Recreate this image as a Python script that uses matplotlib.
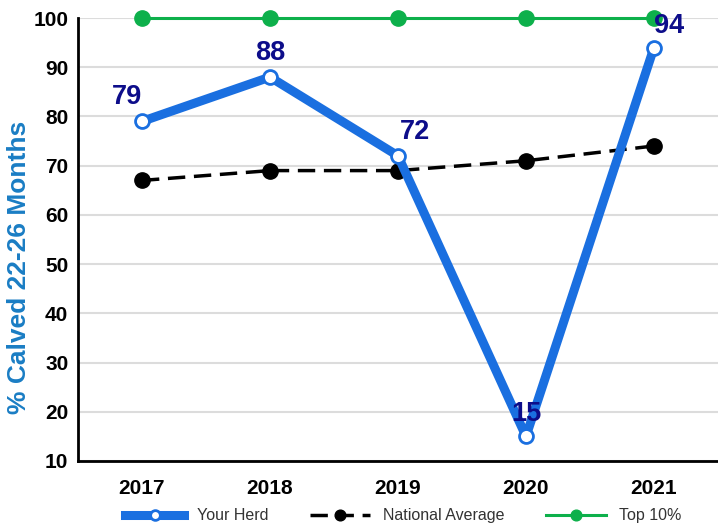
import matplotlib.pyplot as plt
import numpy as np

plt.rcParams['font.family'] = ['Liberation Sans', 'DejaVu Sans']

years = ["2017", "2018", "2019", "2020", "2021"]
your_herd = [79, 88, 72, 15, 94]
national_avg = [67, 69, 69, 71, 74]
top_10 = [100, 100, 100, 100, 100]
label_offsets = [(-11, 8), (0, 8), (12, 8), (0, 7), (11, 6)]

x = np.arange(len(years))

fig = plt.figure(figsize=(7.18, 5.28), dpi=100)
ax = fig.add_axes([0.1086, 0.1269, 0.8914, 0.839])

ax.plot(x, top_10, color="#0db04b", lw=2.2, marker="o", ms=11,
        label="Top 10%", clip_on=False, zorder=3)
ax.plot(x, national_avg, color="black", lw=2.5, ls=(0, (5, 2.5)), marker="o",
        ms=11, label="National Average", zorder=4)
ax.plot(x, your_herd, color="#1a6fe0", lw=6.5, marker="o", ms=10,
        mfc="white", mec="#1a6fe0", mew=2, label="Your Herd", zorder=5)

for xi, v, (dx, dy) in zip(x, your_herd, label_offsets):
    ax.annotate(str(v), (xi, v), xytext=(dx, dy), textcoords="offset points",
                ha="center", va="bottom", fontsize=19.5, fontweight="bold",
                color="#0d0d8a", zorder=6)

ax.set_xlim(-0.5, 4.5)
ax.set_ylim(10, 100)
ax.set_yticks(range(10, 101, 10))
ax.set_xticks(x)
ax.set_xticklabels(years)
ax.tick_params(axis="both", length=0, labelsize=15, pad=7)
for lbl in ax.get_xticklabels() + ax.get_yticklabels():
    lbl.set_fontweight("bold")
ax.tick_params(axis="x", pad=13)

ax.grid(axis="y", color="#dcdcdc", lw=1.5)
ax.set_axisbelow(True)
for s in ["top", "right"]:
    ax.spines[s].set_visible(False)
for s in ["left", "bottom"]:
    ax.spines[s].set_linewidth(2)

ax.set_ylabel("% Calved 22-26 Months", fontsize=19, fontweight="bold",
              color="#1a7dc4")
ax.yaxis.set_label_coords(-0.073, 0.438)

handles, labels = ax.get_legend_handles_labels()
leg = fig.legend(handles[::-1], labels[::-1], loc="lower center",
                 bbox_to_anchor=(0.561, -0.018), ncol=3, frameon=False,
                 fontsize=11.5, handlelength=3.75, handletextpad=0.8,
                 columnspacing=2.6, markerscale=0.7)
for t in leg.get_texts():
    t.set_color("#333333")

fig.savefig("out.png", dpi=100)
